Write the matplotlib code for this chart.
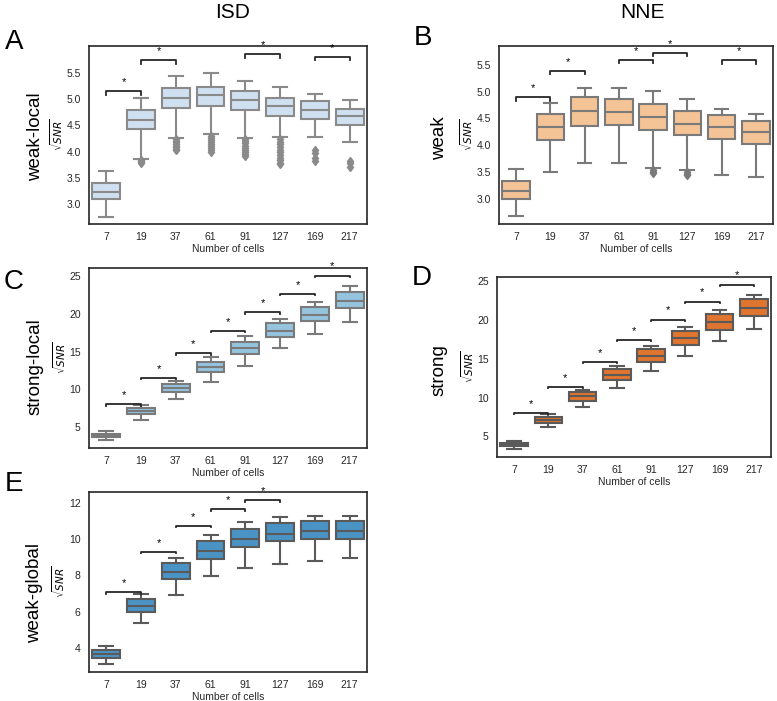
import matplotlib
matplotlib.use("Agg")
import matplotlib.pyplot as plt

plt.rcParams['font.family'] = ['Liberation Sans', 'DejaVu Sans']
plt.rcParams['mathtext.fontset'] = 'dejavusans'

cells = ['7', '19', '37', '61', '91', '127', '169', '217']

# panel A - ISD weak-local
a_lo = [2.76, 3.87, 4.27, 4.34, 4.27, 4.28, 4.28, 4.18]
a_q1 = [3.11, 4.43, 4.84, 4.87, 4.79, 4.68, 4.63, 4.51]
a_med = [3.24, 4.60, 5.03, 5.07, 4.99, 4.87, 4.80, 4.68]
a_q3 = [3.41, 4.80, 5.22, 5.23, 5.15, 5.03, 4.97, 4.82]
a_hi = [3.64, 5.03, 5.44, 5.50, 5.34, 5.23, 5.10, 4.99]
a_out = [[],
         [3.85, 3.82, 3.80, 3.78],
         [4.24, 4.21, 4.18, 4.15, 4.12, 4.09, 4.06, 4.03],
         [4.31, 4.27, 4.23, 4.19, 4.15, 4.11, 4.07, 4.03, 4.00],
         [4.24, 4.20, 4.16, 4.12, 4.08, 4.04, 4.00, 3.96, 3.92],
         [4.24, 4.19, 4.14, 4.09, 4.04, 3.99, 3.94, 3.89, 3.84, 3.79, 3.76],
         [4.04, 3.98, 3.88, 3.83],
         [3.83, 3.78, 3.72]]
a_pairs = [(0, 1), (1, 2), (4, 5), (6, 7)]
a_bar = [5.15, 5.74, 5.85, 5.80]

# panel B - NNE weak
b_lo = [2.68, 3.50, 3.67, 3.66, 3.57, 3.53, 3.45, 3.40]
b_q1 = [3.00, 4.09, 4.36, 4.38, 4.28, 4.19, 4.11, 4.03]
b_med = [3.15, 4.33, 4.63, 4.61, 4.52, 4.39, 4.33, 4.24]
b_q3 = [3.33, 4.58, 4.89, 4.87, 4.76, 4.63, 4.56, 4.46]
b_hi = [3.55, 4.79, 5.07, 5.07, 5.01, 4.86, 4.68, 4.58]
b_out = [[], [], [], [], [3.53, 3.50, 3.48], [3.50, 3.47, 3.44], [], []]
b_pairs = [(0, 1), (1, 2), (3, 4), (4, 5), (6, 7)]
b_bar = [4.89, 5.38, 5.59, 5.72, 5.58]

# panel C - ISD strong-local
c_lo = [3.32, 5.97, 8.72, 10.93, 13.14, 15.44, 17.39, 18.94]
c_q1 = [3.67, 6.73, 9.60, 12.30, 14.69, 16.95, 19.03, 20.84]
c_med = [3.90, 7.17, 10.13, 12.92, 15.44, 17.79, 19.87, 21.77]
c_q3 = [4.12, 7.57, 10.70, 13.63, 16.28, 18.76, 20.97, 22.92]
c_hi = [4.42, 7.88, 11.15, 14.25, 17.04, 19.29, 21.59, 23.76]
c_pairs = [(0, 1), (1, 2), (2, 3), (3, 4), (4, 5), (5, 6), (6, 7)]
c_bar = [8.0, 11.5, 14.78, 17.74, 20.22, 22.65, 25.09]

# panel D - NNE strong
d_lo = [3.32, 6.16, 8.74, 11.24, 13.43, 15.41, 17.34, 18.89]
d_q1 = [3.71, 6.76, 9.60, 12.27, 14.63, 16.78, 18.76, 20.57]
d_med = [3.92, 7.15, 10.16, 12.91, 15.41, 17.69, 19.71, 21.56]
d_q3 = [4.18, 7.54, 10.72, 13.65, 16.27, 18.63, 20.83, 22.76]
d_hi = [4.44, 7.88, 11.02, 14.03, 16.70, 19.11, 21.26, 23.19]
d_pairs = [(0, 1), (1, 2), (2, 3), (3, 4), (4, 5), (5, 6), (6, 7)]
d_bar = [8.01, 11.37, 14.55, 17.43, 20.05, 22.38, 24.57]

# panel E - ISD weak-global
e_lo = [3.12, 5.36, 6.92, 7.96, 8.40, 8.64, 8.81, 8.95]
e_q1 = [3.47, 5.98, 7.80, 8.92, 9.56, 9.89, 9.98, 10.00]
e_med = [3.67, 6.33, 8.20, 9.36, 10.00, 10.29, 10.44, 10.44]
e_q3 = [3.87, 6.70, 8.66, 9.89, 10.55, 10.88, 10.99, 10.99]
e_hi = [4.11, 6.95, 8.94, 10.20, 10.94, 11.23, 11.25, 11.27]
e_pairs = [(0, 1), (1, 2), (2, 3), (3, 4), (4, 5)]
e_bar = [7.06, 9.27, 10.72, 11.63, 12.13]

empty = [[] for _ in cells]


def panel(ax, lo, q1, med, q3, hi, out, fill, edge, ylim, yticks, pairs, bars, tick_px):
    stats = []
    for i in range(len(cells)):
        stats.append(dict(whislo=lo[i], q1=q1[i], med=med[i], q3=q3[i],
                          whishi=hi[i], fliers=out[i]))
    ax.bxp(stats, positions=range(len(cells)), widths=0.8, capwidths=0.4,
           patch_artist=True,
           boxprops=dict(facecolor=fill, edgecolor=edge, linewidth=1.5),
           medianprops=dict(color=edge, linewidth=1.5),
           whiskerprops=dict(color=edge, linewidth=1.5),
           capprops=dict(color=edge, linewidth=1.5),
           flierprops=dict(marker='d', markerfacecolor=edge, markeredgecolor=edge,
                           markersize=4.5))
    ax.set_xlim(-0.5, len(cells) - 0.5)
    ax.set_ylim(*ylim)
    ax.set_yticks(yticks)
    ax.set_xticks(range(len(cells)))
    ax.set_xticklabels(cells)
    ax.tick_params(length=0, labelsize=7.5, colors='#262626', pad=6)
    for s in ax.spines.values():
        s.set_color('#262626')
        s.set_linewidth(1.2)
    ax.set_ylabel(r'$\sqrt{SNR}$', fontsize=7.5, labelpad=1)
    ax.set_xlabel('Number of cells', fontsize=7.5, color='#262626', labelpad=1)
    tick = (ylim[1] - ylim[0]) * tick_px / 178
    for (i, j), y in zip(pairs, bars):
        ax.plot([i, i, j, j], [y - tick, y, y, y - tick], color='#262626', lw=1.3,
                clip_on=False)
        ax.annotate('*', ((i + j) / 2, y), xytext=(0, 3), textcoords='offset points',
                    ha='center', va='bottom', fontsize=8, annotation_clip=False)


fig = plt.figure(figsize=(7.77, 7.01), dpi=100)
axA = fig.add_axes([0.1145, 0.6805, 0.3578, 0.2539])
axB = fig.add_axes([0.6422, 0.6805, 0.3526, 0.2539])
axC = fig.add_axes([0.1145, 0.3609, 0.3578, 0.2568])
axD = fig.add_axes([0.6396, 0.3481, 0.3526, 0.2568])
axE = fig.add_axes([0.1145, 0.0414, 0.3578, 0.2568])

panel(axA, a_lo, a_q1, a_med, a_q3, a_hi, a_out, '#cfe0f1', '#8a8a8a',
      (2.63, 6.01), [3.0, 3.5, 4.0, 4.5, 5.0, 5.5], a_pairs, a_bar, 3.3)
panel(axB, b_lo, b_q1, b_med, b_q3, b_hi, b_out, '#f4c396', '#7a7a7a',
      (2.53, 5.85), [3.0, 3.5, 4.0, 4.5, 5.0, 5.5], b_pairs, b_bar, 3.3)
panel(axC, c_lo, c_q1, c_med, c_q3, c_hi, empty, '#95c4df', '#7a7a7a',
      (2.21, 26.1), [5, 10, 15, 20, 25], c_pairs, c_bar, 1.2)
panel(axD, d_lo, d_q1, d_med, d_q3, d_hi, empty, '#e0752f', '#5a5a5a',
      (2.33, 25.56), [5, 10, 15, 20, 25], d_pairs, d_bar, 1.2)
panel(axE, e_lo, e_q1, e_med, e_q3, e_hi, empty, '#4a93c5', '#5a5a5a',
      (2.68, 12.59), [4, 6, 8, 10, 12], e_pairs, e_bar, 1.2)

fig.text(233 / 777, 1 - 13 / 701, 'ISD', ha='center', va='center', fontsize=15)
fig.text(642 / 777, 1 - 13 / 701, 'NNE', ha='center', va='center', fontsize=15)

for lab, x, y in [('A', 14, 42), ('B', 423, 38), ('C', 14, 282), ('D', 422, 278), ('E', 14, 484)]:
    fig.text(x / 777, 1 - y / 701, lab, ha='center', va='center', fontsize=20)

for lab, x, y in [('weak-local', 36, 137), ('weak', 440, 138), ('strong-local', 35, 367),
                  ('strong', 439, 370), ('weak-global', 35, 593)]:
    fig.text(x / 777, 1 - y / 701, lab, ha='center', va='center', fontsize=13.5,
             rotation=90)

fig.savefig('out.png', dpi=100)
